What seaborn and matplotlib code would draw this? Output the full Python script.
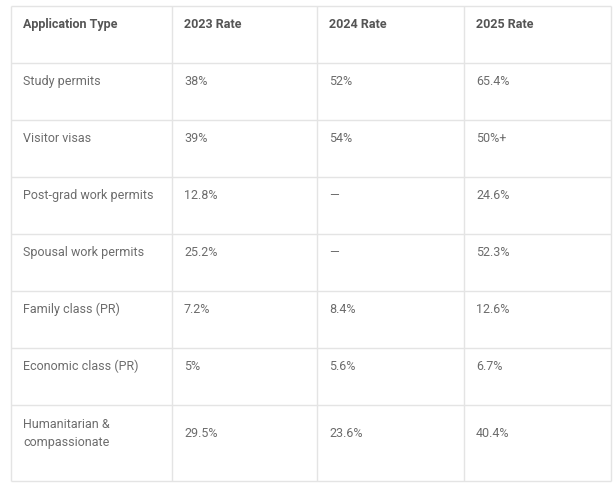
import seaborn as sns
import matplotlib.pyplot as plt

# table content
columns = ["Application Type", "2023 Rate", "2024 Rate", "2025 Rate"]
app_types = ["Study permits", "Visitor visas", "Post-grad work permits",
             "Spousal work permits", "Family class (PR)", "Economic class (PR)",
             "Humanitarian &\ncompassionate"]
rate_2023 = ["38%", "39%", "12.8%", "25.2%", "7.2%", "5%", "29.5%"]
rate_2024 = ["52%", "54%", "—", "—", "8.4%", "5.6%", "23.6%"]
rate_2025 = ["65.4%", "50%+", "24.6%", "52.3%", "12.6%", "6.7%", "40.4%"]

sns.set_theme(style="white")
plt.rcParams['font.family'] = ['Roboto', 'DejaVu Sans']

fig = plt.figure(figsize=(6.16, 4.87), dpi=100)
ax = fig.add_axes([0, 0, 1, 1])
ax.set_xlim(0, 616)
ax.set_ylim(487, 0)
ax.axis('off')

# layout in pixels
col_edges = [11, 172, 317, 464, 611]
row_edges = [6, 63, 120, 177, 234, 291, 348, 405, 481]
line_col = "#e4e4e4"

for y in row_edges:
    ax.hlines(y, col_edges[0], col_edges[-1], color=line_col, lw=1)
for x in col_edges:
    ax.vlines(x, row_edges[0], row_edges[-1], color=line_col, lw=1)

pad = 12
for j, name in enumerate(columns):
    ax.text(col_edges[j] + pad, row_edges[0] + 18.5, name, fontsize=9,
            fontweight='bold', color="#555555", va='center', ha='left')

for i, label in enumerate(app_types):
    top = row_edges[i + 1]
    if "\n" in label:
        yc = top + 28.5
    else:
        yc = top + 18.5
    ax.text(col_edges[0] + pad, yc, label, fontsize=9, color="#6c6c6c",
            va='center', ha='left', linespacing=1.55)
    for j, vals in enumerate([rate_2023, rate_2024, rate_2025]):
        ax.text(col_edges[j + 1] + pad, yc, vals[i], fontsize=9, color="#6c6c6c",
                va='center', ha='left')

fig.savefig("out.png", dpi=100, facecolor="white")
